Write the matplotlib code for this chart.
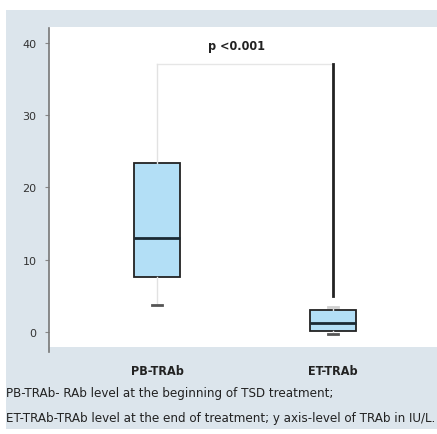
import matplotlib.pyplot as plt

# box statistics (TRAb, IU/L)
groups = ["PB-TRAb", "ET-TRAb"]
whislo = [3.7, -0.3]
q1 = [7.6, 0.1]
med = [13.0, 1.25]
q3 = [23.4, 3.0]
whishi = [37.1, 3.5]
bracket_top = 37.1
bracket_right_low = 5.0
yticks = [0, 10, 20, 30, 40]
p_text = "p <0.001"
caption = ["PB-TRAb- RAb level at the beginning of TSD treatment;",
           "ET-TRAb-TRAb level at the end of treatment; y axis-level of TRAb in IU/L."]

W, H = 437, 435
fig = plt.figure(figsize=(W / 100, H / 100), dpi=100)
fig.patch.set_facecolor("white")

# grey panel behind the chart
bg = fig.add_axes([6 / W, 1 - 430 / H, 431 / W, 419 / H], zorder=-1)
bg.set_facecolor("#dce5ec")
bg.set_xticks([])
bg.set_yticks([])
for s in bg.spines.values():
    s.set_visible(False)

ax = fig.add_axes([49 / W, 1 - 348 / H, (W - 49) / W, 320 / H], zorder=1)
ax.set_facecolor("white")

stats = []
for i, g in enumerate(groups):
    stats.append(dict(label=g, whislo=whislo[i], q1=q1[i], med=med[i],
                      q3=q3[i], whishi=whishi[i], fliers=[]))
bp = ax.bxp(stats, positions=[1, 2], widths=0.26, patch_artist=True,
            boxprops=dict(facecolor="#b3dff6", edgecolor="#222222", linewidth=1.3),
            medianprops=dict(color="#1a2a33", linewidth=2),
            whiskerprops=dict(color="#e2e2e2", linewidth=1),
            capprops=dict(color="#555555", linewidth=2),
            capwidths=0.06)
bp["caps"][1].set_visible(False)
bp["caps"][3].set_color("#d0d0d0")

# significance bracket
ax.plot([1, 2], [bracket_top, bracket_top], color="#e6e6e6", lw=1, zorder=1)
ax.plot([2, 2], [bracket_top, bracket_right_low], color="#222222", lw=2, zorder=3)
ax.text(1.45, bracket_top + 1.6, p_text, ha="center", va="bottom",
        fontsize=9, fontweight="bold", color="#222222", fontstretch="condensed")

ax.set_xlim(0.386, 2.59)
ax.set_ylim(-2.1, 42.2)
ax.set_yticks(yticks)
ax.set_yticklabels([str(t) for t in yticks], fontsize=8, color="#333333")
ax.tick_params(axis="y", length=3, color="#888888", pad=6)
ax.set_xticks([1, 2])
ax.set_xticklabels(groups, fontsize=9, fontweight="bold", color="#222222",
                   fontstretch="condensed")
ax.tick_params(axis="x", length=0, pad=12)
for s in ["top", "right", "bottom"]:
    ax.spines[s].set_visible(False)
ax.spines["left"].set_color("#777777")
ax.spines["left"].set_linewidth(1.2)
ax.spines["left"].set_bounds(-2.8, 42)

for k, line in enumerate(caption):
    fig.text(6 / W, 1 - (394 + 25 * k) / H, line, ha="left", va="center",
             fontsize=9.5, color="#222222", fontstretch="condensed")

fig.savefig("out.png", dpi=100)
